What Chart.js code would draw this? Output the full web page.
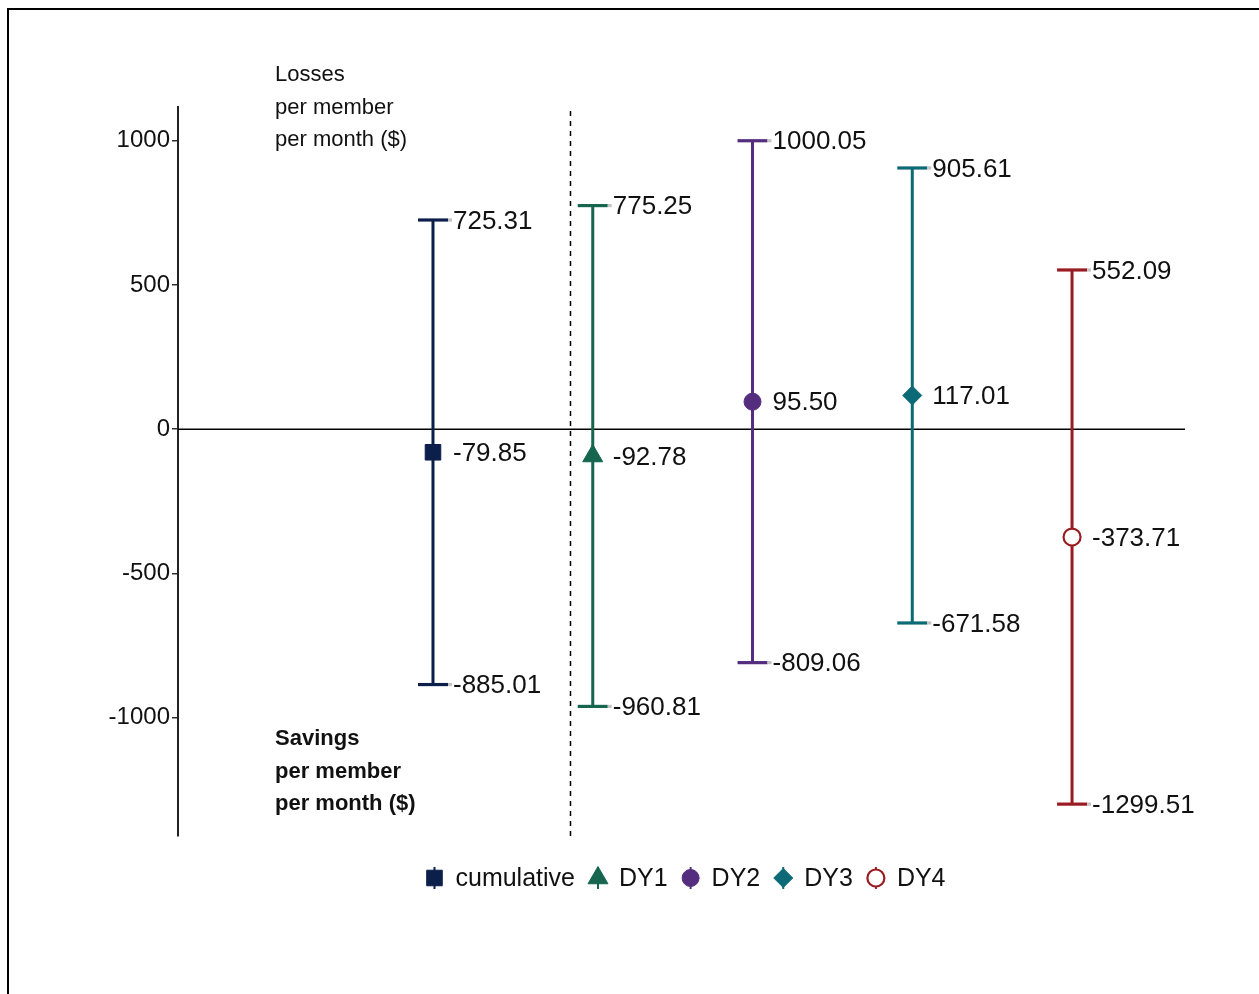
<!DOCTYPE html>
<html><head><meta charset="utf-8">
<script src="https://cdn.jsdelivr.net/npm/chart.js@4.4.1/dist/chart.umd.min.js"></script>
<style>
html,body{margin:0;padding:0;background:#fff;}
#frame{position:absolute;left:7px;top:8px;width:1252px;height:986px;border-top:2px solid #000;border-left:2px solid #000;box-sizing:border-box;}
#wrap{position:absolute;left:0;top:0;width:1259px;height:994px;}
</style></head><body>
<div id="frame"></div>
<div id="wrap"><canvas id="c" width="1259" height="994"></canvas></div>
<script>
// ---- data ----
const categories = ['cumulative', 'DY1', 'DY2', 'DY3', 'DY4'];
const estimates = [-79.85, -92.78, 95.50, 117.01, -373.71];
const lowerBounds = [-885.01, -960.81, -809.06, -671.58, -1299.51];
const upperBounds = [725.31, 775.25, 1000.05, 905.61, 552.09];
const yTickValues = [-1000, -500, 0, 500, 1000];
const lossesLines = ['Losses', 'per member', 'per month ($)'];
const savingsLines = ['Savings', 'per member', 'per month ($)'];

// ---- styling ----
const colors = ['#0c1f4b', '#15654f', '#552d7f', '#0b6a76', '#9a1c22'];
const markerStyles = ['rect', 'triangle', 'circle', 'rectRot', 'circle'];
const markerFilled = [true, true, true, true, false];
const markerRadius = [11, 11.5, 8.5, 9.5, 8.5];
const FONT = '"Liberation Sans", Arial, sans-serif';
const TEXT = '#111';
const dividerX = 1.858;

const datasets = categories.map((c, i) => ({
  label: c,
  data: [{x: i + 1, y: estimates[i]}],
  pointStyle: markerStyles[i],
  pointRadius: markerRadius[i],
  pointHoverRadius: markerRadius[i],
  pointBackgroundColor: markerFilled[i] ? colors[i] : '#fff',
  pointBorderColor: colors[i],
  pointBorderWidth: markerFilled[i] ? 1 : 2.2,
  showLine: false
}));

const decor = {
  id: 'decor',
  beforeDatasetsDraw(chart) {
    const {ctx, chartArea: a, scales: {x, y}} = chart;
    ctx.save();
    const y0 = y.getPixelForValue(0);
    ctx.strokeStyle = '#000'; ctx.lineWidth = 1.5;
    ctx.beginPath(); ctx.moveTo(a.left, y0); ctx.lineTo(a.right, y0); ctx.stroke();
    const xd = Math.round(x.getPixelForValue(dividerX)) + 0.5;
    ctx.setLineDash([5, 5]); ctx.lineWidth = 1.5;
    ctx.beginPath(); ctx.moveTo(xd, a.top + 4); ctx.lineTo(xd, a.bottom); ctx.stroke();
    ctx.setLineDash([]);
    categories.forEach((c, i) => {
      const px = x.getPixelForValue(i + 1);
      const pl = y.getPixelForValue(lowerBounds[i]);
      const ph = y.getPixelForValue(upperBounds[i]);
      ctx.strokeStyle = colors[i]; ctx.lineWidth = 3;
      ctx.beginPath(); ctx.moveTo(px, ph); ctx.lineTo(px, pl); ctx.stroke();
      [pl, ph].forEach(py => {
        ctx.strokeStyle = colors[i]; ctx.lineWidth = 3.2;
        ctx.beginPath(); ctx.moveTo(px - 15, py); ctx.lineTo(px + 15, py); ctx.stroke();
        ctx.strokeStyle = '#c4c4c4';
        ctx.beginPath(); ctx.moveTo(px + 15, py); ctx.lineTo(px + 19, py); ctx.stroke();
      });
    });
    ctx.restore();
  },
  afterDatasetsDraw(chart) {
    const {ctx, chartArea: a, scales: {x, y}} = chart;
    ctx.save();
    ctx.fillStyle = TEXT;
    ctx.textBaseline = 'middle';
    ctx.textAlign = 'left';
    ctx.font = '26px ' + FONT;
    categories.forEach((c, i) => {
      const px = x.getPixelForValue(i + 1) + 20;
      [upperBounds[i], estimates[i], lowerBounds[i]].forEach(v => {
        ctx.fillText(v.toFixed(2), px, y.getPixelForValue(v) + 1.5);
      });
    });
    const ax = a.left + 97;
    ctx.font = '22px ' + FONT;
    lossesLines.forEach((t, k) => ctx.fillText(t, ax, a.top - 32 + k * 32.5));
    ctx.font = 'bold 22px ' + FONT;
    savingsLines.forEach((t, k) => ctx.fillText(t, ax, a.top + 632 + k * 32.5));
    // legend
    ctx.font = '25px ' + FONT;
    const widths = categories.map(c => ctx.measureText(c).width);
    let total = 9;
    widths.forEach((w, i) => { total += 21 + w + (i < widths.length - 1 ? 23 : 0); });
    const cx = (a.left + a.right) / 2 + 4;
    const ly = a.bottom + 42;
    let mx = cx - total / 2 + 9;
    categories.forEach((c, i) => {
      ctx.strokeStyle = colors[i]; ctx.lineWidth = 2;
      ctx.beginPath(); ctx.moveTo(mx, ly - 11); ctx.lineTo(mx, ly + 11); ctx.stroke();
      ctx.fillStyle = markerFilled[i] ? colors[i] : '#fff';
      ctx.strokeStyle = colors[i];
      ctx.lineWidth = markerFilled[i] ? 1 : 2.2;
      Chart.helpers.drawPoint(ctx, {pointStyle: markerStyles[i], radius: markerRadius[i], rotation: 0, borderWidth: ctx.lineWidth}, mx, ly);
      ctx.fillStyle = TEXT;
      ctx.fillText(c, mx + 21, ly + 1);
      mx += 21 + widths[i] + 23;
    });
    ctx.restore();
  }
};

new Chart(document.getElementById('c'), {
  type: 'scatter',
  data: {datasets},
  options: {
    responsive: false,
    animation: false,
    events: [],
    layout: {padding: {left: 0, top: 107, right: 74, bottom: 158}},
    plugins: {legend: {display: false}, tooltip: {enabled: false}},
    scales: {
      x: {type: 'linear', display: false, min: -0.596, max: 5.707},
      y: {
        type: 'linear', min: -1410, max: 1117,
        afterBuildTicks(s) { s.ticks = yTickValues.map(v => ({value: v})); },
        afterFit(s) { s.width = 178; },
        grid: {drawOnChartArea: false, drawTicks: true, tickLength: 6, color: '#333', lineWidth: 1.5},
        border: {display: true, color: '#222', width: 2},
        ticks: {font: {size: 24, family: FONT}, color: TEXT, padding: 2,
          callback: v => String(v)}
      }
    }
  },
  plugins: [decor]
});
</script>
</body></html>
